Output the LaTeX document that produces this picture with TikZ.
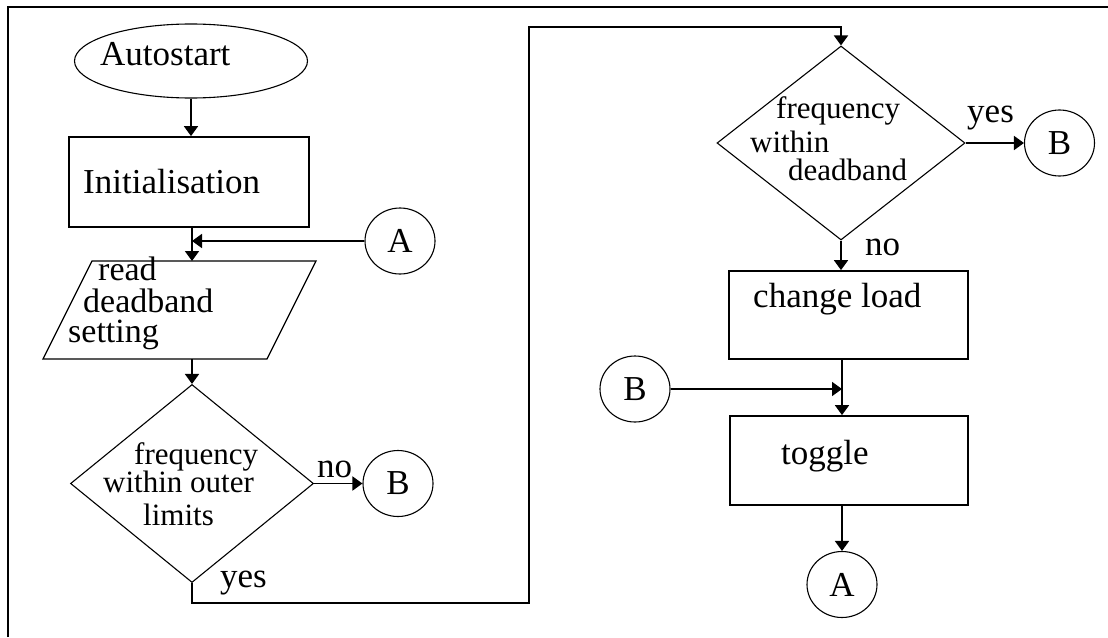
\documentclass[tikz,border=0pt]{standalone}
\usepackage{fontspec}
\setmainfont{Liberation Serif}
\usetikzlibrary{arrows.meta,shapes.geometric}
\begin{document}
\begin{tikzpicture}[x=1pt,y=-1pt,
  rectbox/.style={draw, line width=1.8pt, inner sep=0pt},
  thinshape/.style={draw, line width=1.1pt, inner sep=0pt},
  circ/.style={thinshape, ellipse, minimum width=70pt, minimum height=66pt, font=\fontsize{35}{35}\selectfont},
  conn/.style={line width=1.8pt, -{Triangle[width=14pt,length=10pt]}},
  txt/.style={inner sep=0pt, anchor=base west, font=\fontsize{35}{35}\selectfont},
  dtxt/.style={inner sep=0pt, anchor=base west, font=\fontsize{31}{31}\selectfont},
  ptxt/.style={inner sep=0pt, anchor=base west, font=\fontsize{34}{34}\selectfont}]
\useasboundingbox (0,0) rectangle (1108,637);
\draw[line width=2pt] (8,637) -- (8,7) -- (1108,7);

% left column
\node[thinshape, ellipse, minimum width=233pt, minimum height=74pt] (start) at (191,61) {};
\node[txt] (tstart) at (100,65) {Autostart};
\node[rectbox, minimum width=240pt, minimum height=90pt] (init) at (189,182) {};
\node[txt] (tinit) at (83,193) {Initialisation};
\node[circ] (A1) at (400,241) {A};
% parallelogram (input)
\coordinate (pTL) at (92,261);
\coordinate (pTR) at (316,261);
\coordinate (pBR) at (267,359);
\coordinate (pBL) at (43,359);
\draw[line width=1.3pt, line join=miter] (pTL) -- (pTR) -- (pBR) -- (pBL) -- cycle;
\node[ptxt] (tread) at (98,280) {read};
\node[ptxt] (tdead) at (83,312) {deadband};
\node[ptxt] (tset) at (68,342) {setting};
\node[thinshape, diamond, minimum width=243pt, minimum height=198pt] (d1) at (192,483.5) {};
\node[dtxt] (d1a) at (134,464) {frequency};
\node[dtxt] (d1b) at (103,492) {within outer};
\node[dtxt] (d1c) at (143,525) {limits};
\node[circ] (B1) at (398,483.5) {B};
\node[txt] (no1) at (317,477) {no};
\node[txt] (yes1) at (220,587) {yes};

% right column
\node[thinshape, diamond, minimum width=248pt, minimum height=194pt] (d2) at (841,143) {};
\node[dtxt] (d2a) at (776,118) {frequency};
\node[dtxt] (d2b) at (750,152) {within};
\node[dtxt] (d2c) at (788,180) {deadband};
\node[circ] (B2) at (1059.5,143) {B};
\node[txt] (yes2) at (967,122) {yes};
\node[txt] (no2) at (865,255) {no};
\node[rectbox, minimum width=239pt, minimum height=88pt] (chg) at (848.5,315) {};
\node[txt] (tchg) at (753,307) {change load};
\node[circ] (B3) at (635,389) {B};
\node[rectbox, minimum width=238pt, minimum height=89pt] (tog) at (849,460.5) {};
\node[txt] (ttog) at (781,464) {toggle};
\node[circ] (A2) at (842,584.5) {A};

% connectors
\coordinate (j0) at ([xshift=3pt]init.south);
\coordinate (c1) at (529,603);
\coordinate (c2) at (529,27);
\draw[conn] (start.south) -- (start.south |- init.north);
\draw[conn] (j0) -- (j0 |- pTL);
\draw[conn] (A1.west) -- (A1.west -| j0);
\draw[conn] (pBL -| d1.north) -- (d1.north);
\draw[conn] (d1.east) -- (B1.west);
\draw[conn] (d1.south) |- (c1) -- (c2) -| (d2.north);
\draw[conn] (d2.east) -- (B2.west);
\draw[conn] (d2.south) -- (d2.south |- chg.north);
\draw[conn] (chg.south -| A2.north) -- (tog.north -| A2.north);
\draw[conn] (B3.east) -- (B3.east -| A2.north);
\draw[conn] (tog.south -| A2.north) -- (A2.north);
\end{tikzpicture}
\end{document}
